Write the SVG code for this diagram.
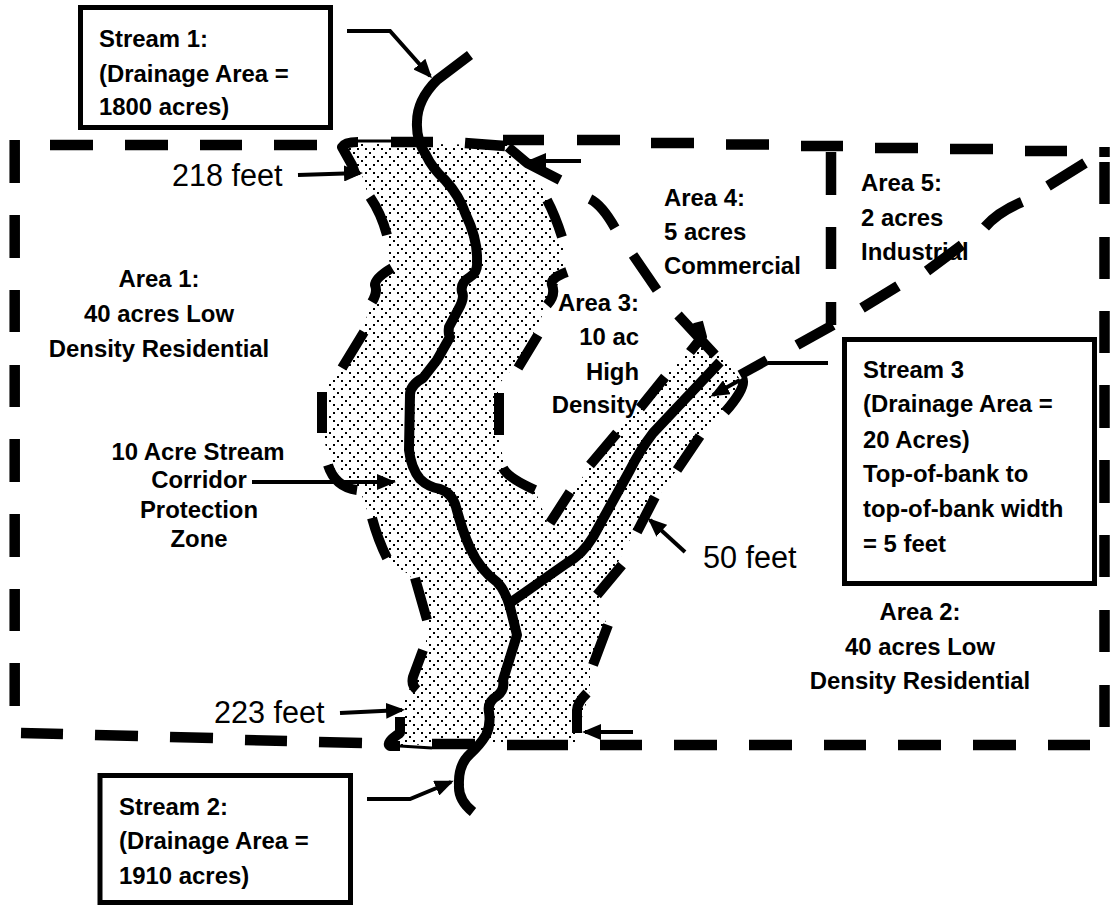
<svg xmlns="http://www.w3.org/2000/svg" width="1110" height="905" viewBox="0 0 1110 905">
<style>
text{font-family:"Liberation Sans",Arial,sans-serif;fill:#000}
.b{font-weight:700;font-size:23.9px}
.c{text-anchor:middle}
.r{text-anchor:end}
.d{font-size:30.6px}
.box{fill:#fff;stroke:#000;stroke-width:5}
.dash{fill:none;stroke:#000;stroke-width:10.5}
.bank{fill:none;stroke:#000;stroke-width:10;stroke-linejoin:round}
.stream{fill:none;stroke:#000;stroke-width:10;stroke-linejoin:round}
.arrow{fill:none;stroke:#000;stroke-width:4;marker-end:url(#head)}
</style>
<defs>
<pattern id="dots" width="16" height="16" patternUnits="userSpaceOnUse" patternTransform="translate(1,8)">
<path d="M0,0h2v2h-2zM4,4h2v2h-2zM12,4h2v2h-2zM8,8h2v2h-2zM4,12h2v2h-2zM12,12h2v2h-2z" fill="#000"/>
</pattern>
<marker id="head" markerUnits="userSpaceOnUse" markerWidth="19" markerHeight="16" viewBox="0 0 19 16" refX="16" refY="8" orient="auto">
<path d="M0,0L19,8L0,16Z" fill="#000"/>
</marker>
</defs>
<rect width="1110" height="905" fill="#fff"/>
<path id="corridor" fill="url(#dots)" d="M345,143L510,145L547,195L565,235L565,270L545,310L520,360L498,385L498,430L505,470L535,490L550,530L590,465L665,375L700,340L720,355L745,385L705,430L680,465L635,530L600,596L597,600L607,625L590,665L590,690L575,742L400,745L405,700L413,680L425,650L428,625L410,575L385,560L367,510L360,490L330,465L322,430L328,385L362,332L372,300L390,265L385,235L368,195L362,175Z"/>
<g id="area-1"><text class="b c" x="159" y="287">Area 1:</text><text class="b c" x="159" y="322">40 acres Low</text><text class="b c" x="159" y="357">Density Residential</text></g>
<g id="corridor-label"><text class="b c" x="198" y="460">10 Acre Stream</text><text class="b c" x="199" y="488">Corridor</text><text class="b c" x="199" y="518">Protection</text><text class="b c" x="199" y="547">Zone</text></g>
<g id="area-2"><text class="b c" x="920" y="620">Area 2:</text><text class="b c" x="920" y="655">40 acres Low</text><text class="b c" x="920" y="689">Density Residential</text></g>
<g id="area-3"><text class="b r" x="639" y="311">Area 3:</text><text class="b r" x="639" y="345">10 ac</text><text class="b r" x="639" y="380">High</text><text class="b r" x="638" y="413">Density</text></g>
<g id="area-4"><text class="b" x="664" y="206">Area 4:</text><text class="b" x="664" y="240">5 acres</text><text class="b" x="664" y="274">Commercial</text></g>
<g id="area-5"><text class="b" x="861" y="191">Area 5:</text><text class="b" x="861" y="226">2 acres</text><text class="b" x="861" y="260">Industrial</text></g>
<g id="width-218"><text class="d" x="172" y="186">218 feet</text></g>
<g id="width-223"><text class="d" x="214" y="723">223 feet</text></g>
<g id="width-50"><text class="d" x="703" y="568">50 feet</text></g>
<g id="outer-boundary" class="dash">
<path d="M14.7,140V183M14.7,215V258M14.7,290V332M14.7,365V407M14.7,439V482M14.7,514V557M14.7,589V631M14.7,663V706"/>
<path d="M50,145H93M125,145H168M200,145H242M274,145H317M391,142H433M465,143L505,146M503,140H544M577,140H620M651,143H694M726,144.500H769M801,146H843M875,148H918M950,149H993M1025,151H1067"/>
<path d="M1104.500,147V157M1104.500,162V204M1104.500,237V279M1104.500,311V353M1104.500,385V428M1104.500,460V503M1104.500,535V577M1104.500,610V652M1104.500,685V727"/>
<path d="M21,733L63,734M95,735L138,736M170,737L213,738M245,740L287,741M319,742L362,743M432,744H475M507,745H568M600,745H642M674,745H717M749,745H792M824,745H866M898,745H941M973,745H1016M1048,745H1090"/>
<path d="M831,152V195M831,227V269M831,302V325M833,325L797,345M862,308L898,286M927,271L962,245M985,227Q998,212 1022,202M1048,186L1085,163"/>
</g>
<g id="banks" class="bank">
<path stroke-width="3" d="M391,141H358"/>
<path d="M358,142Q345,142 342,147L352,165L356,176M370,197Q381,213 387,235M392,268Q375,278 375,285Q378,292 372,302M364,332L342,368M322,392V433M328,465Q335,487 357,490M372,518Q378,540 387,558M415,578L427,620M423,650L413,677Q411,685 417,690M400,717V733Q385,743 390,746H400"/>
<path stroke-width="3" d="M400,746L432,748"/>
<path d="M508,147L527,163L560,180M547,200Q555,215 562,237M567,272Q550,278 552,285Q556,295 547,305M538,335L518,368M499,393V435M503,468Q508,478 535,490"/>
<path d="M590,199Q602,205 615,228M633,255L657,290M678,315L715,355M690,352L702,337L698,322"/>
<path d="M665,377L640,408M617,433L590,465M570,492L550,523"/>
<path d="M742,378Q748,386 725,412M700,436L677,470M655,497L637,532M622,565L597,595M608,625L593,665M587,693Q577,703 577,710V733"/>
</g>
<g id="streams" class="stream">
<path id="stream-main" d="M470,55L437,80Q417,100 417,122Q416,140 426,155Q432,168 445,180Q459,195 466,215Q478,240 477,262Q478,272 470,277Q460,283 462,292Q465,298 458,310L449,327Q448,335 450,337L437,360L423,378Q410,385 410,395L409,450Q411,468 420,479Q428,487 440,489Q452,493 456,507Q462,530 470,548Q480,570 497,582Q505,590 510,607L517,635L503,680Q505,690 497,696Q487,702 489,712Q491,725 486,735Q480,745 470,754Q458,765 459,785Q458,800 473,812"/>
<path id="stream-3" d="M720,362L653,433Q640,450 630,470L593,537Q582,555 567,563Q550,575 510,603"/>
</g>
<g id="connectors">
<path class="arrow" d="M347,31H390L430,76"/>
<path class="arrow" d="M367,799H410L451,782"/>
<path class="arrow" d="M298,175L360,173"/>
<path class="arrow" d="M340,713L402,710"/>
<path class="arrow" d="M252,482H393"/>
<path class="arrow" d="M581,161H530"/>
<path class="arrow" d="M633,732H585"/>
<path class="arrow" d="M685,552L650,520"/>
<path class="arrow" d="M740,380L713,395"/>
<path fill="none" stroke="#000" stroke-width="4" d="M828,363H768"/>
<path fill="none" stroke="#000" stroke-width="10" d="M767,360L740,375"/>
</g>
<g id="stream-1-box"><rect class="box" x="80.500" y="7.500" width="250" height="120"/><text class="b" x="99" y="47">Stream 1:</text><text class="b" x="99" y="82">(Drainage Area =</text><text class="b" x="99" y="115">1800 acres)</text></g>
<g id="stream-2-box"><rect class="box" x="100" y="775.500" width="250.500" height="127"/><text class="b" x="119" y="815">Stream 2:</text><text class="b" x="119" y="849">(Drainage Area =</text><text class="b" x="119" y="884">1910 acres)</text></g>
<g id="stream-3-box"><rect class="box" x="844.500" y="339.500" width="250" height="244"/><text class="b" x="863" y="378">Stream 3</text><text class="b" x="863" y="412">(Drainage Area =</text><text class="b" x="863" y="448">20 Acres)</text><text class="b" x="863" y="482">Top-of-bank to</text><text class="b" x="863" y="517">top-of-bank width</text><text class="b" x="863" y="552">= 5 feet</text></g>
</svg>
